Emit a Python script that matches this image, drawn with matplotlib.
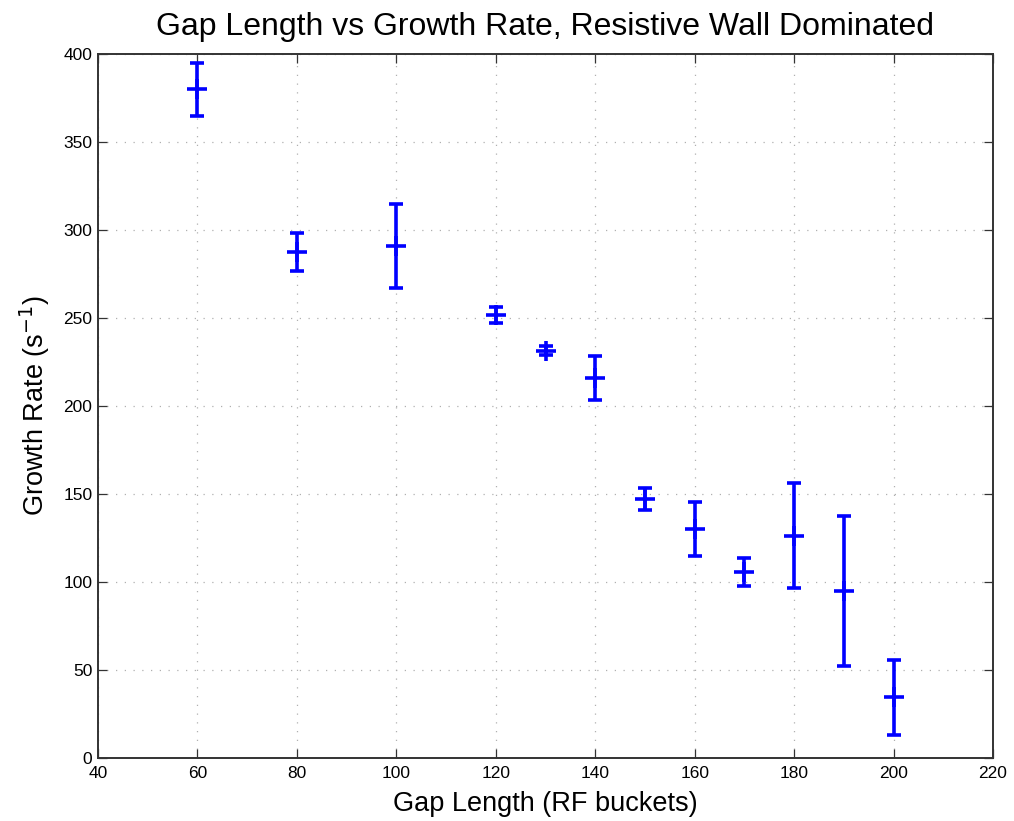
import matplotlib
matplotlib.use("Agg")
import matplotlib.pyplot as plt

gap_length = [60, 80, 100, 120, 130, 140, 150, 160, 170, 180, 190, 200]
growth_rate = [380, 287.5, 291, 251.7, 231.5, 216, 147.2, 130, 105.5, 126.3, 94.8, 34.5]
growth_err = [15, 10.7, 24, 4.5, 2.5, 12.6, 6.4, 15.5, 8, 29.8, 42.6, 21.3]

plt.rcParams['font.family'] = ['Liberation Sans', 'DejaVu Sans']

fig = plt.figure(figsize=(10.14, 8.21), dpi=100)
ax = fig.add_axes([98/1014, 1-758/821, (993-98)/1014, (758-54)/821])

ax.errorbar(gap_length, growth_rate, yerr=growth_err, fmt='+', color='#0000ff',
            ecolor='#0000ff', elinewidth=2.6, capsize=4.8, capthick=2.6,
            markersize=15, markeredgewidth=2.6)

ax.set_xlim(40, 220)
ax.set_ylim(0, 400)
ax.set_xticks(range(40, 221, 20))
ax.set_yticks(range(0, 401, 50))
ax.grid(True, linestyle=(0, (1, 6)), color='#b0b0b0', linewidth=0.9)
ax.tick_params(direction='in', top=True, right=True, labelsize=12.5, length=6.5,
               width=0.9, color='#333333')
ax.tick_params(axis='x', pad=6)
ax.tick_params(axis='y', pad=4)
for s in ax.spines.values():
    s.set_linewidth(1.4)
    s.set_color('#333333')
ax.set_title('Gap Length vs Growth Rate, Resistive Wall Dominated', fontsize=23, pad=14)
ax.set_xlabel('Gap Length (RF buckets)', fontsize=19.5, labelpad=7)
ax.set_ylabel('Growth Rate (s$^{-1}$)', fontsize=19.5, labelpad=8)

fig.savefig('out.png', dpi=100)
